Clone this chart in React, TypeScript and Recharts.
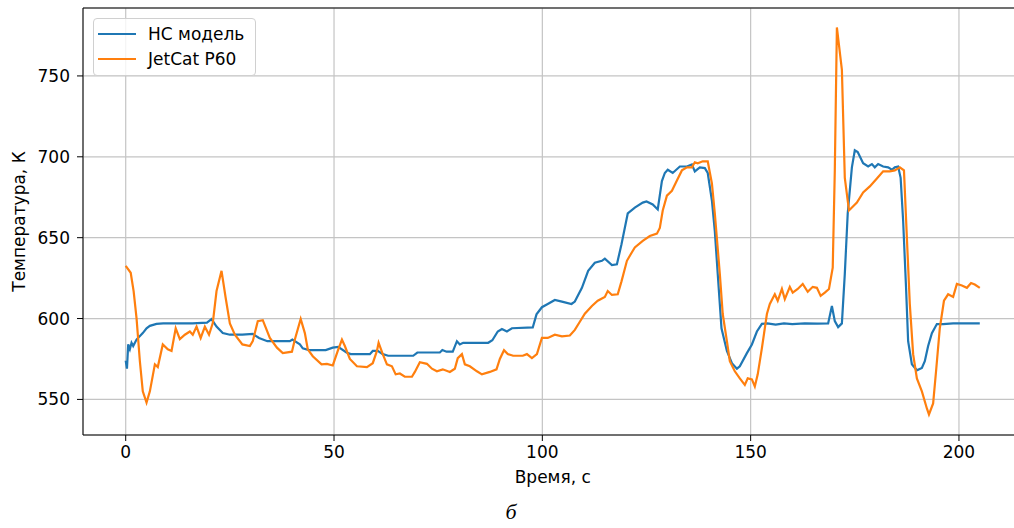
import {
  CartesianGrid,
  Label,
  Line,
  LineChart,
  ReferenceLine,
  XAxis,
  YAxis,
} from 'recharts'

// НС модель (blue) at its breakpoints
const nnTime = [
  0, 0.3, 0.6, 1.0, 1.4, 1.8, 2.6, 4.1, 5.0, 5.8, 7.4, 9, 12, 16, 19.5, 20.6, 21.8, 23.3, 25, 28,
  30.5, 32, 34, 37, 39.4, 40, 41.8, 42.5, 44, 48, 49.7, 51, 53, 54, 58.6, 59.3, 60.5, 61.7, 63, 69,
  70, 75.4, 76, 77, 78.5, 79.5, 80.2, 81, 87, 88, 89.3, 90.3, 91.5, 92.7, 97.7, 98.6, 99.9, 101.3,
  103, 104.7, 107, 107.8, 109.5, 111, 112.6, 114.3, 115, 116.7, 117.9, 119, 120.5, 122.2, 124.1, 125,
  126.5, 127.7, 128.7, 129.4, 130.1, 131.3, 133, 134.7, 135.9, 136.6, 137.8, 139, 139.7, 140.7,
  141.4, 142.1, 143, 144.3, 145.5, 146.7, 147.4, 149.1, 150.3, 151.5, 152.7, 154, 156, 158, 160,
  163, 166, 168.6, 169.5, 170.2, 171, 171.9, 172.6, 173.3, 174.3, 175, 175.7, 177, 178.2, 179.1,
  179.8, 180.6, 181.8, 183, 183.9, 184.6, 185.4, 186, 186.6, 187.3, 187.8, 188.7, 189.9, 191.1,
  191.8, 192.6, 193.5, 194.7, 196.2, 198.6, 205,
]
const nnTemp = [
  574, 569, 584, 581, 585, 583, 587, 591, 594, 595.5, 596.7, 597, 597, 597, 597.5, 599.6, 595, 591, 590, 590,
  590.5, 588, 586, 586, 586, 587, 584, 581.6, 580.5, 580.5, 582, 582.5, 579, 578, 578, 580, 580, 578, 577, 577,
  579, 579, 580.5, 579.5, 579.5, 586, 584, 585, 585, 586.6, 592, 593.5, 592, 594, 594.5, 602.6, 607, 609,
  611.5, 610.5, 609, 610.5, 619, 629.5, 634.5, 635.7, 637, 633, 633.5, 646, 665, 668.6, 671.7, 672.4,
  670.5, 667.4, 685, 690, 692, 690, 694, 694, 695.3, 691, 693.5, 693, 690, 673,
  654, 627.6, 594, 580, 572.4, 569, 570.5, 578.6, 584, 592, 596.7, 597, 596.3, 597, 596.6,
  597, 596.8, 597, 607.8, 598.4, 594.7, 597, 627.6, 665, 693.5, 704, 703, 696, 694, 695.5,
  693.5, 695.5, 694, 693.5, 692, 693.5, 694, 687, 660.5, 619, 586, 571.7, 568, 569.4,
  573.6, 583, 591, 596.6, 596.6, 597, 597,
]

// JetCat P60 (orange)
const jetTime = [
  0, 1.2, 1.9, 2.6, 3.4, 4.1, 5, 5.8, 7, 7.7, 8.9, 10.1, 11, 12, 13, 14.2, 15.4, 16.1, 17, 18, 19, 20,
  20.9, 21.8, 23, 24, 25, 26.2, 28, 29.8, 30.5, 31.7, 32.9, 34.6, 36.3, 37.7, 39.9, 40.6, 42, 43, 43.7,
  44.9, 47, 48.3, 49.7, 50.9, 51.9, 52.6, 53.8, 55.5, 57.9, 59.3, 60.3, 60.7, 61.7, 62.7, 63.9, 64.8,
  65.8, 67, 68.7, 69.4, 70.6, 72.3, 73.5, 74.7, 76.1, 77.8, 79, 79.7, 80.7, 81.4, 82.6, 84.3, 85.5,
  87.4, 89, 89.8, 90.8, 91.7, 93, 95.3, 96.3, 97.5, 98.7, 99.9, 101.3, 103, 104.7, 106.6, 107.8, 109,
  110.2, 111.9, 113.3, 115, 115.7, 116.7, 118.1, 119, 120.3, 121.5, 122.2, 124.1, 125.8, 127.5, 128.2,
  128.9, 129.9, 131.1, 132.3, 133.5, 134.7, 135.9, 136.6, 137.3, 138.5, 139.7, 140.7, 141.4, 142.6,
  143.3, 144.3, 145, 146.2, 147.4, 148.6, 149.3, 150.3, 151, 151.7, 152.7, 153.9, 154.6, 155.8, 156.5,
  157.5, 158.2, 159.4, 160.1, 161.3, 162.5, 163.7, 164.9, 165.9, 166.8, 167.8, 168.8, 169.7, 170.2,
  170.7, 171.9, 172.6, 173.6, 175.5, 177, 178.6, 180.3, 181.8, 183.4, 184.6, 185.8, 186.8, 187.5,
  188.2, 189, 189.9, 191.1, 192.3, 192.8, 193.8, 194.5, 195.4, 196.4, 197.4, 198.6, 199.5, 200.7,
  201.9, 202.9, 203.8, 205,
]
const jetTemp = [
  632.6, 628.3, 617, 600.3, 573.6, 555, 548, 555, 571.7, 570, 584, 581, 580, 594, 587.3, 590, 592, 590, 595, 588, 595, 590,
  597.2, 617, 629.5, 612.7, 597, 590, 584, 583, 586, 598.4, 599, 588, 582, 578.6, 579.5, 587, 599.7, 591, 581,
  576.7, 571.7, 572, 571, 580, 587, 583, 575, 570.5, 570, 572.4, 580, 585, 578, 571.7, 570.5, 565.5,
  566, 564, 564, 567, 573, 572, 569, 567.4, 568.6, 567, 569, 575.5, 578, 571.7, 570.5, 567.4, 565.5,
  567, 568.6, 575, 580.4, 578, 577, 577, 578, 575.5, 578, 588, 588, 590, 589, 589.5, 593, 598,
  603, 607.8, 611, 613.4, 617, 614.6, 615, 623, 635.7, 641, 644, 648, 651, 652.5, 656,
  666.8, 676, 679, 685.4, 691.6, 693.5, 693.5, 696.6, 696, 697.2, 697.2, 683.5, 665, 627.6,
  602.8, 586, 573.6, 567.4, 563, 559, 563, 562.4, 558, 565.5, 581.7, 602.8, 609, 615, 611,
  618.3, 612, 619.6, 616, 618.3, 621.4, 616.5, 619.6, 619, 614, 616, 618.3, 631.4, 691.6,
  780, 753.7, 687, 666.8, 671.7, 678, 681.7, 686.6, 691, 691, 691.6, 693.5, 691.6, 650,
  609, 578, 563, 555, 544.4, 540.7, 547.5, 567.4, 594, 611, 615, 613.4, 621.4, 620.4,
  619, 622, 621, 619,
]

const xTicks = [0, 50, 100, 150, 200]
const yTicks = [550, 600, 650, 700, 750]

const series = [
  { name: 'НС модель', color: '#1f77b4', data: nnTime.map((t, i) => ({ t, v: nnTemp[i] })) },
  { name: 'JetCat P60', color: '#ff7f0e', data: jetTime.map((t, i) => ({ t, v: jetTemp[i] })) },
]

const FONT = '"DejaVu Sans", sans-serif'
const FS = 17
const X_DOMAIN: [number, number] = [-10.25, 215.25]
const Y_DOMAIN: [number, number] = [528, 792]

// legend drawn outside the chart so it doesn't eat plot space
function LegendBox() {
  return (
    <div
      style={{
        position: 'absolute',
        left: 93,
        top: 18,
        border: '1px solid #d0d0d0',
        borderRadius: 4,
        background: 'rgba(255,255,255,0.8)',
        width: 163,
        height: 58,
        boxSizing: 'border-box',
        fontFamily: FONT,
        fontSize: FS,
        color: '#000',
      }}
    >
      {series.map((s, i) => (
        <div key={s.name} style={{ position: 'absolute', left: 4, top: 4 + i * 25, height: 22, display: 'flex', alignItems: 'center' }}>
          <span style={{ display: 'inline-block', width: 38, height: 2, background: s.color }} />
          <span style={{ marginLeft: 12, whiteSpace: 'nowrap' }}>{s.name}</span>
        </div>
      ))}
    </div>
  )
}

export default function App() {
  return (
    <div style={{ position: 'absolute', left: 0, top: 0, width: 1014, height: 528, overflow: 'hidden', background: '#fff' }}>
      <LineChart width={1030} height={528} margin={{ top: 8, right: 7.5, left: 0, bottom: 0 }}>
        <CartesianGrid stroke="#c4c4c4" strokeWidth={1.2} />
        <XAxis
          type="number"
          dataKey="t"
          domain={X_DOMAIN}
          ticks={xTicks}
          allowDataOverflow
          height={93}
          stroke="#000"
          tickSize={6}
          tickMargin={5}
          tick={{ fill: '#000', fontSize: FS, fontFamily: FONT }}
        >
          <Label value="Время, с" position="insideBottom" offset={45} style={{ fill: '#000', fontSize: FS, fontFamily: FONT }} />
        </XAxis>
        <YAxis
          type="number"
          domain={Y_DOMAIN}
          ticks={yTicks}
          allowDataOverflow
          width={83}
          stroke="#000"
          tickSize={6}
          tickMargin={7}
          tick={{ fill: '#000', fontSize: FS, fontFamily: FONT }}
        >
          <Label
            value="Температура, К"
            angle={-90}
            position="insideLeft"
            offset={19}
            style={{ fill: '#000', fontSize: FS, fontFamily: FONT, textAnchor: 'middle' }}
          />
        </YAxis>
        <ReferenceLine y={Y_DOMAIN[1]} stroke="#000" strokeWidth={1.2} ifOverflow="visible" />
        {series.map((s) => (
          <Line
            key={s.name}
            data={s.data}
            dataKey="v"
            name={s.name}
            type="linear"
            stroke={s.color}
            strokeWidth={2.2}
            dot={false}
            activeDot={false}
            isAnimationActive={false}
          />
        ))}
      </LineChart>
      <LegendBox />
      <div
        style={{
          position: 'absolute',
          left: 511,
          top: 500,
          transform: 'translateX(-50%)',
          fontFamily: '"Liberation Serif", serif',
          fontStyle: 'italic',
          fontSize: 22,
          lineHeight: '24px',
          color: '#000',
        }}
      >
        б
      </div>
    </div>
  )
}
